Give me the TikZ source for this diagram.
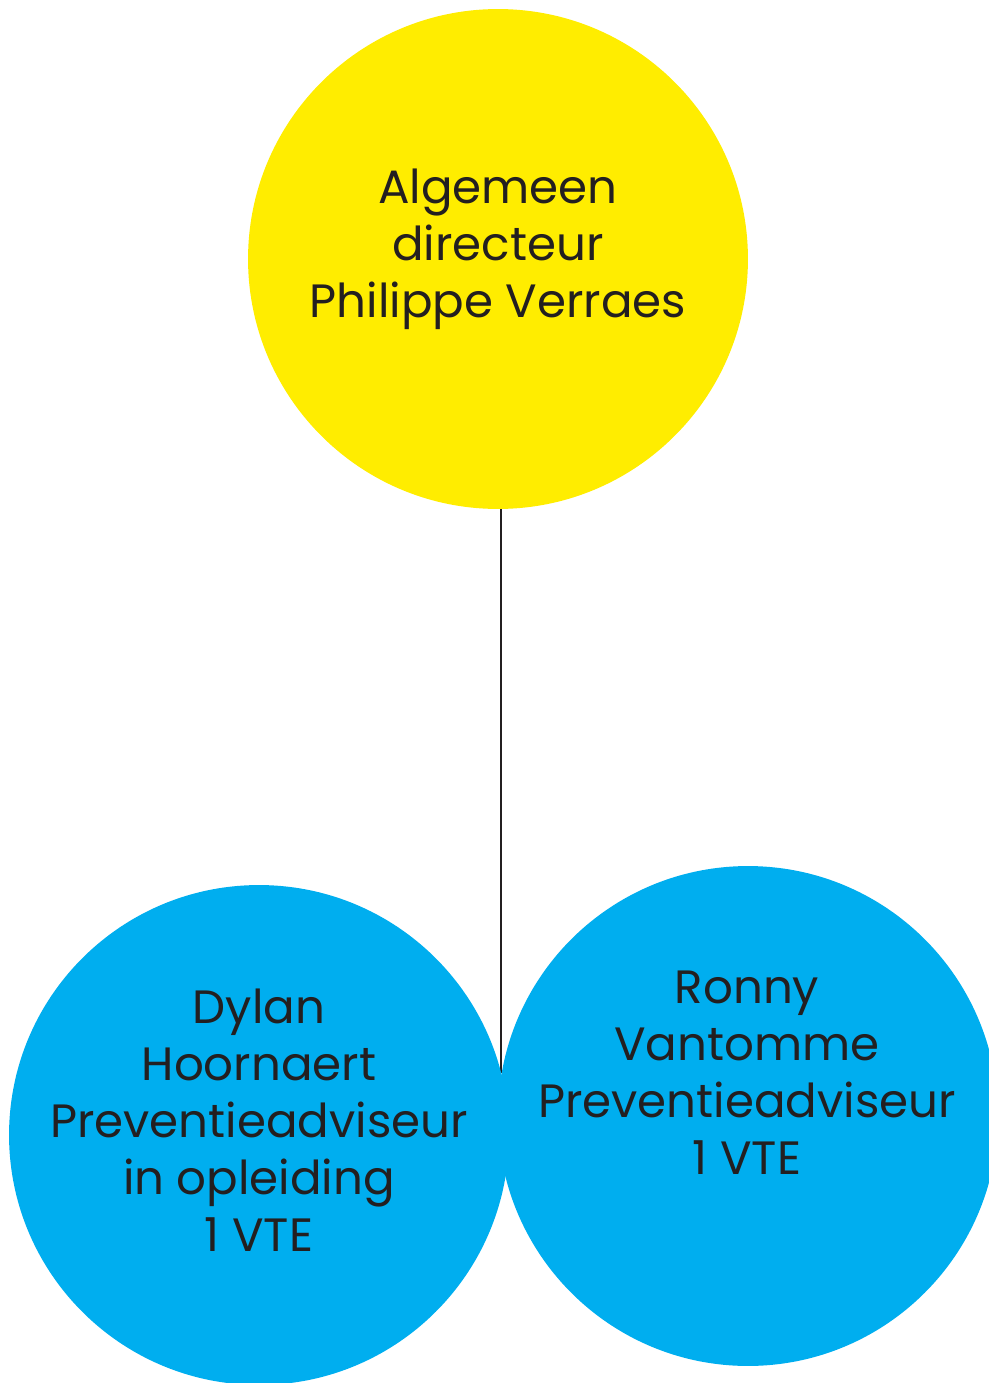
\documentclass[tikz,border=0pt]{standalone}
\usepackage{fontspec}
\setmainfont{Poppins}
\usepackage{tikz}
\usetikzlibrary{positioning}
\definecolor{geel}{HTML}{FFED00}
\definecolor{blauw}{HTML}{00AEEF}
\definecolor{tekst}{HTML}{231F20}

\begin{document}
\begin{tikzpicture}[
  x=0.02cm, y=-0.02cm,
  bol/.style={circle, minimum size=10cm, inner sep=0pt},
  txt/.style={align=center, text=tekst, font=\fontsize{26.6}{32.4}\selectfont},
  lijn/.style={line width=1.2pt, draw=tekst}
]
\useasboundingbox (0,0) rectangle (989,1383);
\clip (0,0) rectangle (989,1383);
\node[bol, fill=geel] (directeur) at (498,259) {};
\coordinate (splits) at (501,1073);
\draw[lijn] (directeur.south -| splits) -- (splits);
\node[bol, fill=blauw] (dylan) at (259,1135) {};
\node[bol, fill=blauw] (ronny) at (748,1116) {};
\node[txt] (directeurtxt) at (498,249) {Algemeen\\directeur\\Philippe Verraes};
\node[txt] (dylantxt) at (259,1120) {Dylan\\Hoornaert\\Preventieadviseur\\in opleiding\\1 VTE};
\node[txt] (ronnytxt) at (747,1073) {Ronny\\Vantomme\\Preventieadviseur\\1 VTE};
\end{tikzpicture}
\end{document}
